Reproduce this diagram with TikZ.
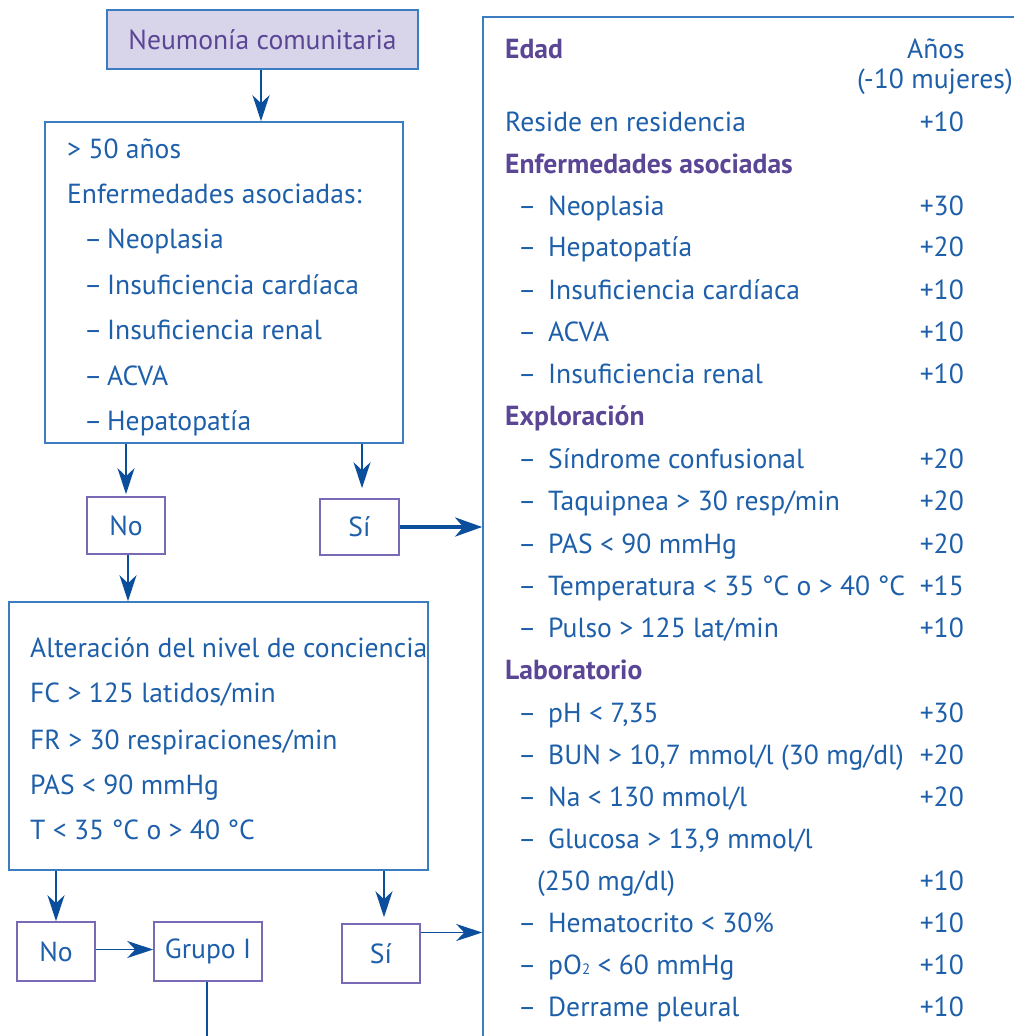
\documentclass[tikz,border=0pt]{standalone}
\usepackage{fontspec}
\setmainfont{PT Sans}
\usetikzlibrary{arrows.meta}
\definecolor{txtblue}{HTML}{1E5FAA}
\definecolor{arrblue}{HTML}{0B4F9C}
\definecolor{bordblue}{HTML}{3C7CC0}
\definecolor{boxpurple}{HTML}{7A6AB6}
\definecolor{headpurple}{HTML}{5B4696}
\definecolor{topfill}{HTML}{D8D4EA}
\newcommand{\fsz}{\fontsize{27.6}{32}\selectfont}
\newcommand{\ritm}[1]{\makebox[30pt][l]{–}#1}
\newcommand{\litm}[1]{\makebox[23pt][l]{–}#1}
\tikzset{
  txt/.style={anchor=base west, inner sep=0pt, text=txtblue, font=\fsz},
  num/.style={anchor=base east, inner sep=0pt, text=txtblue, font=\fsz},
  head/.style={anchor=base west, inner sep=0pt, text=headpurple, font=\fsz\bfseries},
  bigbox/.style={draw=bordblue, line width=1.6pt, inner sep=0pt},
  smallbox/.style={draw=boxpurple, line width=1.6pt, inner sep=0pt, text=txtblue, font=\fsz},
  arr/.style={draw=arrblue, line width=1.8pt, -{Stealth[length=26pt, width=17pt, inset=8pt]}},
  thickarr/.style={draw=arrblue, line width=3.8pt, -{Stealth[length=27pt, width=19pt, inset=8pt]}},
  plainline/.style={draw=arrblue, line width=1.8pt}
}
\begin{document}
\begin{tikzpicture}[x=1pt, y=-1pt]
\useasboundingbox (0,0) rectangle (1014,1036);
\clip (0,0) rectangle (1014,1036);
% boxes
\node[draw=bordblue, fill=topfill, line width=1.6pt, minimum width=311pt, minimum height=59pt, text=headpurple, font=\fsz] (top) at (262.5,39.5) {Neumonía comunitaria};
\node[bigbox, minimum width=358pt, minimum height=321pt] (b2) at (224,282.5) {};
\node[smallbox, minimum width=78pt, minimum height=57pt] (no1) at (126,525.5) {No};
\node[smallbox, minimum width=79pt, minimum height=56pt] (si1) at (359.5,527) {Sí};
\node[bigbox, minimum width=419pt, minimum height=268pt] (b3) at (218.5,736) {};
\node[smallbox, minimum width=78pt, minimum height=59pt] (no2) at (56,951.5) {No};
\node[smallbox, minimum width=108pt, minimum height=59pt] (g1) at (208,951.5) {Grupo I};
\node[smallbox, minimum width=78pt, minimum height=59pt] (si2) at (381,953.5) {Sí};
\node[bigbox, minimum width=617pt, minimum height=1083pt] (rb) at (791.5,558.5) {};
\coordinate (gend) at (207,1040);
% box 2 text
\node[txt] (t21) at (67,158) {> 50 años};
\node[txt] (t22) at (67,203) {Enfermedades asociadas:};
\node[txt] (t23) at (84,248) {\litm{Neoplasia}};
\node[txt] (t24) at (84,294) {\litm{Insuficiencia cardíaca}};
\node[txt] (t25) at (84,339) {\litm{Insuficiencia renal}};
\node[txt] (t26) at (84,385) {\litm{ACVA}};
\node[txt] (t27) at (84,430) {\litm{Hepatopatía}};
% box 3 text
\node[txt] (t31) at (30,657) {Alteración del nivel de conciencia};
\node[txt] (t32) at (30,702) {FC > 125 latidos/min};
\node[txt] (t33) at (30,749) {FR > 30 respiraciones/min};
\node[txt] (t34) at (30,794) {PAS < 90 mmHg};
\node[txt] (t35) at (30,839) {T < 35 °C o > 40 °C};
% right box text
\node[head] (h1) at (505,58) {Edad};
\node[anchor=base, inner sep=0pt, text=txtblue, font=\fsz] (a1) at (936,58) {Años};
\node[anchor=base, inner sep=0pt, text=txtblue, font=\fsz] (a2) at (935,88) {(-10 mujeres)};
\node[txt] (r1) at (505,131) {Reside en residencia};
\node[num] (n1) at (964,131) {+10};
\node[head] (h2) at (505,173) {Enfermedades asociadas};
\node[txt] (r2) at (518,215) {\ritm{Neoplasia}};
\node[num] (n2) at (964,215) {+30};
\node[txt] (r3) at (518,256) {\ritm{Hepatopatía}};
\node[num] (n3) at (964,256) {+20};
\node[txt] (r4) at (518,299) {\ritm{Insuficiencia cardíaca}};
\node[num] (n4) at (964,299) {+10};
\node[txt] (r5) at (518,341) {\ritm{ACVA}};
\node[num] (n5) at (964,341) {+10};
\node[txt] (r6) at (518,383) {\ritm{Insuficiencia renal}};
\node[num] (n6) at (964,383) {+10};
\node[head] (h3) at (505,425) {Exploración};
\node[txt] (r7) at (518,468) {\ritm{Síndrome confusional}};
\node[num] (n7) at (964,468) {+20};
\node[txt] (r8) at (518,510) {\ritm{Taquipnea > 30 resp/min}};
\node[num] (n8) at (964,510) {+20};
\node[txt] (r9) at (518,553) {\ritm{PAS < 90 mmHg}};
\node[num] (n9) at (964,553) {+20};
\node[txt] (r10) at (518,595) {\ritm{Temperatura < 35 °C o > 40 °C}};
\node[num] (n10) at (964,595) {+15};
\node[txt] (r11) at (518,637) {\ritm{Pulso > 125 lat/min}};
\node[num] (n11) at (964,637) {+10};
\node[head] (h4) at (505,679) {Laboratorio};
\node[txt] (r12) at (518,722) {\ritm{pH < 7,35}};
\node[num] (n12) at (964,722) {+30};
\node[txt] (r13) at (518,764) {\ritm{BUN > 10,7 mmol/l (30 mg/dl)}};
\node[num] (n13) at (964,764) {+20};
\node[txt] (r14) at (518,806) {\ritm{Na < 130 mmol/l}};
\node[num] (n14) at (964,806) {+20};
\node[txt] (r15) at (518,848) {\ritm{Glucosa > 13,9 mmol/l}};
\node[txt] (r16) at (537,890) {(250 mg/dl)};
\node[num] (n16) at (964,890) {+10};
\node[txt] (r17) at (518,932) {\ritm{Hematocrito < 30\%}};
\node[num] (n17) at (964,932) {+10};
\node[txt] (r18) at (518,974) {\ritm{pO{\fontsize{15}{15}\selectfont 2} < 60 mmHg}};
\node[num] (n18) at (964,974) {+10};
\node[txt] (r19) at (518,1016) {\ritm{Derrame pleural}};
\node[num] (n19) at (964,1016) {+10};
% connectors
\draw[arr] (top.south -| 261,0) -- (b2.north -| 261,0);
\draw[arr, shorten >=2pt] (b2.south -| no1.north) -- (no1.north);
\draw[arr, shorten >=10pt] (b2.south -| 362,0) -- (si1.north -| 362,0);
\draw[thickarr] (si1.east) -- (si1.east -| rb.west);
\draw[arr] (no1.south -| 128,0) -- (b3.north -| 128,0);
\draw[arr] (b3.south -| no2.north) -- (no2.north);
\draw[arr] ([yshift=2pt]no2.east) -- ([yshift=2pt]g1.west);
\draw[arr, shorten >=6pt] (b3.south -| 384,0) -- (si2.north -| 384,0);
\draw[arr] ([yshift=21pt]si2.east) -- ([yshift=21pt]si2.east -| rb.west);
\draw[plainline] (g1.south -| gend) -- (gend);
\end{tikzpicture}
\end{document}
